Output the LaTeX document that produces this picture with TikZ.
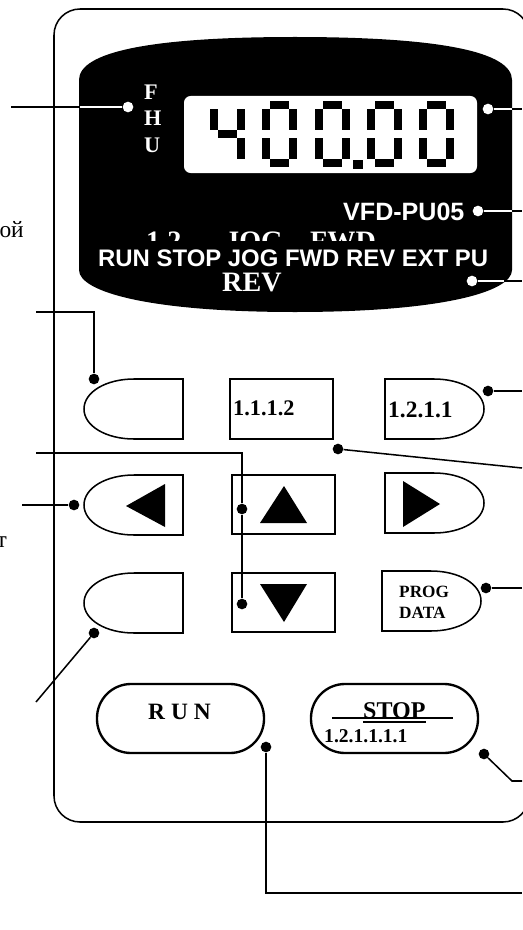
\documentclass[tikz,border=0pt]{standalone}
\usepackage{fontspec}
\setmainfont{Liberation Serif}
\newfontfamily\panelsans{Liberation Sans}
\tikzset{
    wire/.style={line width=1.3pt, line join=miter},
    dot/.style={circle, fill=black, inner sep=0pt, minimum size=0.32cm},
    dotw/.style={dot, fill=white},
    btn/.style={line width=1.3pt},
    btnbold/.style={line width=2pt},
    serifb/.style={inner sep=0pt, anchor=base west, font=\bfseries\fontsize{#1}{#1}\selectfont},
    sansb/.style={inner sep=0pt, anchor=base west, text=white, font=\panelsans\bfseries\fontsize{#1}{#1}\selectfont},
    remnant/.style={inner sep=0pt, anchor=base east, font=\fontsize{20}{20}\selectfont}
}
\begin{document}
\begin{tikzpicture}[x=0.03cm, y=-0.03cm]
    \useasboundingbox (0,0) rectangle (522,930);
    \fill[white] (0,0) rectangle (522,930);

    % panel outline runs off the right side
    \draw[line width=1.3pt, rounded corners=0.78cm] (54,9) rectangle (529,822);

    % display
    \fill[black] (79,80) .. controls (79,52) and (150,37) .. (295,37)
        .. controls (441,37) and (512,52) .. (512,80) -- (512,270)
        .. controls (512,292) and (441,312) .. (295,312)
        .. controls (150,312) and (79,292) .. (79,270) -- cycle;
    \fill[white, rounded corners=0.2cm] (184,96) rectangle (477,173);

    % segments of the 4
    \fill[black] (210,109.5) rectangle (218,130.5);
    \fill[black] (237,109.5) rectangle (245,130.5);
    \fill[black] (218,130.5) rectangle (237,138);
    \fill[black] (237,138) rectangle (245,159);

    % the zeros
    \foreach \dx in {262,315,367,419} {
        \begin{scope}[shift={(\dx,0)}]
            \fill[black] (8,101.5) rectangle (27,109);
            \fill[black] (0,109) rectangle (8,130.5);
            \fill[black] (27,109) rectangle (35,130.5);
            \fill[black] (0,138) rectangle (8,159);
            \fill[black] (27,138) rectangle (35,159);
            \fill[black] (8,159) rectangle (27,167);
        \end{scope}
    }
    \fill[black] (353,160) rectangle (363,169);

    % white labels in the display
    \node[serifb=19, text=white] (unitF) at (144,100) {F};
    \node[serifb=19, text=white] (unitH) at (144,126) {H};
    \node[serifb=19, text=white] (unitU) at (144,152) {U};
    \node[sansb=21.4] (model) at (343,220) {VFD-PU05};

    % these are cut off by the strip on top of them
    \node[serifb=24, text=white] (old12) at (146,250) {1.2};
    \node[serifb=24, text=white] (oldjog) at (225,250) {JOG};
    \node[serifb=24, text=white] (oldfwd) at (310,250) {FWD};
    \node[serifb=24, text=white] (oldrev) at (222,291) {REV};
    \fill[black] (90,241) rectangle (500,272);
    \fill[black] (284,272) rectangle (300,296);
    \node[sansb=20.4] (status) at (98,266) {RUN STOP JOG FWD REV EXT PU};

    % half round keys, left column
    \foreach \ytop in {379,475,573} {
        \draw[btn, shift={(0,\ytop)}] (183,0) -- (134,0)
            .. controls (106,0) and (84,13) .. (84,30)
            .. controls (84,47) and (106,60) .. (134,60) -- (183,60) -- cycle;
    }
    % half round keys, right column
    \foreach \bx/\ytop in {385/379,385/473,382/571} {
        \draw[btn, shift={(\bx,\ytop)}] (0,0) -- (49,0)
            .. controls (77,0) and (99,13) .. (99,30)
            .. controls (99,47) and (77,60) .. (49,60) -- (0,60) -- cycle;
    }

    % square keys
    \draw[btnbold] (230,379) rectangle (333,439);
    \draw[btnbold] (232,475) rectangle (335,534);
    \draw[btnbold] (232,573) rectangle (335,632);

    % arrows on the keys
    \fill[black] (126,506) -- (165,484) -- (165,527) -- cycle;
    \fill[black] (284,486) -- (307,523) -- (260,523) -- cycle;
    \fill[black] (403,481) -- (440,504) -- (403,527) -- cycle;
    \fill[black] (260,584) -- (307,584) -- (284,622) -- cycle;

    % key labels
    \node[serifb=19] (keyA) at (233,415) {1.1.1.2};
    \node[serifb=20] (keyB) at (388,417) {1.2.1.1};
    \node[serifb=14.7] (keyprog) at (399,597) {PROG};
    \node[serifb=14.7] (keydata) at (399,618) {DATA};

    % long keys
    \draw[btnbold, rounded corners=1.02cm] (97,684) rectangle (264,753);
    \draw[btnbold, rounded corners=1.02cm] (311,684) rectangle (478,753);
    \node[serifb=20] (keyrun) at (148,719) {R U N};
    \node[serifb=20.5] (keystop) at (363,718) {STOP};
    \node[serifb=16.7] (keycode) at (324,742) {1.2.1.1.1.1};
    \draw[line width=1.3pt] (332,718) -- (453,718);
    \draw[line width=2.4pt] (363,722) -- (426,722);

    % dots on the leaders
    \node[dotw] (dotF) at (128,107) {};
    \node[dotw] (dotLCD) at (488,109) {};
    \node[dotw] (dotVFD) at (478,211) {};
    \node[dotw] (dotLED) at (472,281) {};
    \node[dot] (dotA) at (94,379) {};
    \node[dot] (dotB) at (488,391) {};
    \node[dot] (dotC) at (338,449) {};
    \node[dot] (dotD) at (74,505) {};
    \node[dot] (dotE) at (242,509) {};
    \node[dot] (dotG) at (242,604) {};
    \node[dot] (dotH) at (486,588) {};
    \node[dot] (dotI) at (94,633) {};
    \node[dot] (dotK) at (266,747) {};
    \node[dot] (dotL) at (484,754) {};

    % free ends and bends
    \coordinate (endF) at (11,107);
    \coordinate (edgeF) at (80,107);
    \coordinate (endLCD) at (522,109);
    \coordinate (edgeLCD) at (511.5,109);
    \coordinate (endVFD) at (522,211);
    \coordinate (edgeVFD) at (511.5,211);
    \coordinate (endLED) at (522,281);
    \coordinate (edgeLED) at (504,281);
    \coordinate (endA) at (36,312);
    \coordinate (bendA) at (94,312);
    \coordinate (endB) at (522,391);
    \coordinate (endC) at (522,468);
    \coordinate (endD) at (22,505);
    \coordinate (endE) at (36,453);
    \coordinate (bendE) at (242,453);
    \coordinate (endH) at (522,588);
    \coordinate (endI) at (36,702);
    \coordinate (bendK) at (266,893);
    \coordinate (endK) at (522,893);
    \coordinate (bendL) at (512,781);
    \coordinate (endL) at (522,781);

    % leaders out of the display change colour at its edge
    \draw[wire] (endF) -- (edgeF);
    \draw[wire, white] (edgeF) -- (dotF);
    \draw[wire, white] (dotLCD) -- (edgeLCD);
    \draw[wire] (edgeLCD) -- (endLCD);
    \draw[wire, white] (dotVFD) -- (edgeVFD);
    \draw[wire] (edgeVFD) -- (endVFD);
    \draw[wire, white] (dotLED) -- (edgeLED);
    \draw[wire] (edgeLED) -- (endLED);

    % leaders of the keys
    \draw[wire] (endA) -- (bendA) -- (dotA);
    \draw[wire] (dotB) -- (endB);
    \draw[wire] (dotC) -- (endC);
    \draw[wire, line width=1.6pt] (endD) -- (dotD);
    \draw[wire] (endE) -- (bendE) -- (dotE);
    \draw[wire] (dotE) -- (dotG);
    \draw[wire] (dotH) -- (endH);
    \draw[wire] (endI) -- (dotI);
    \draw[wire] (dotK) -- (bendK) -- (endK);
    \draw[wire] (dotL) -- (bendL) -- (endL);

    % what is left of the captions at the left side
    \node[remnant] (captionA) at (24,237) {ой};
    \node[remnant] (captionB) at (7,547) {т};
\end{tikzpicture}
\end{document}
